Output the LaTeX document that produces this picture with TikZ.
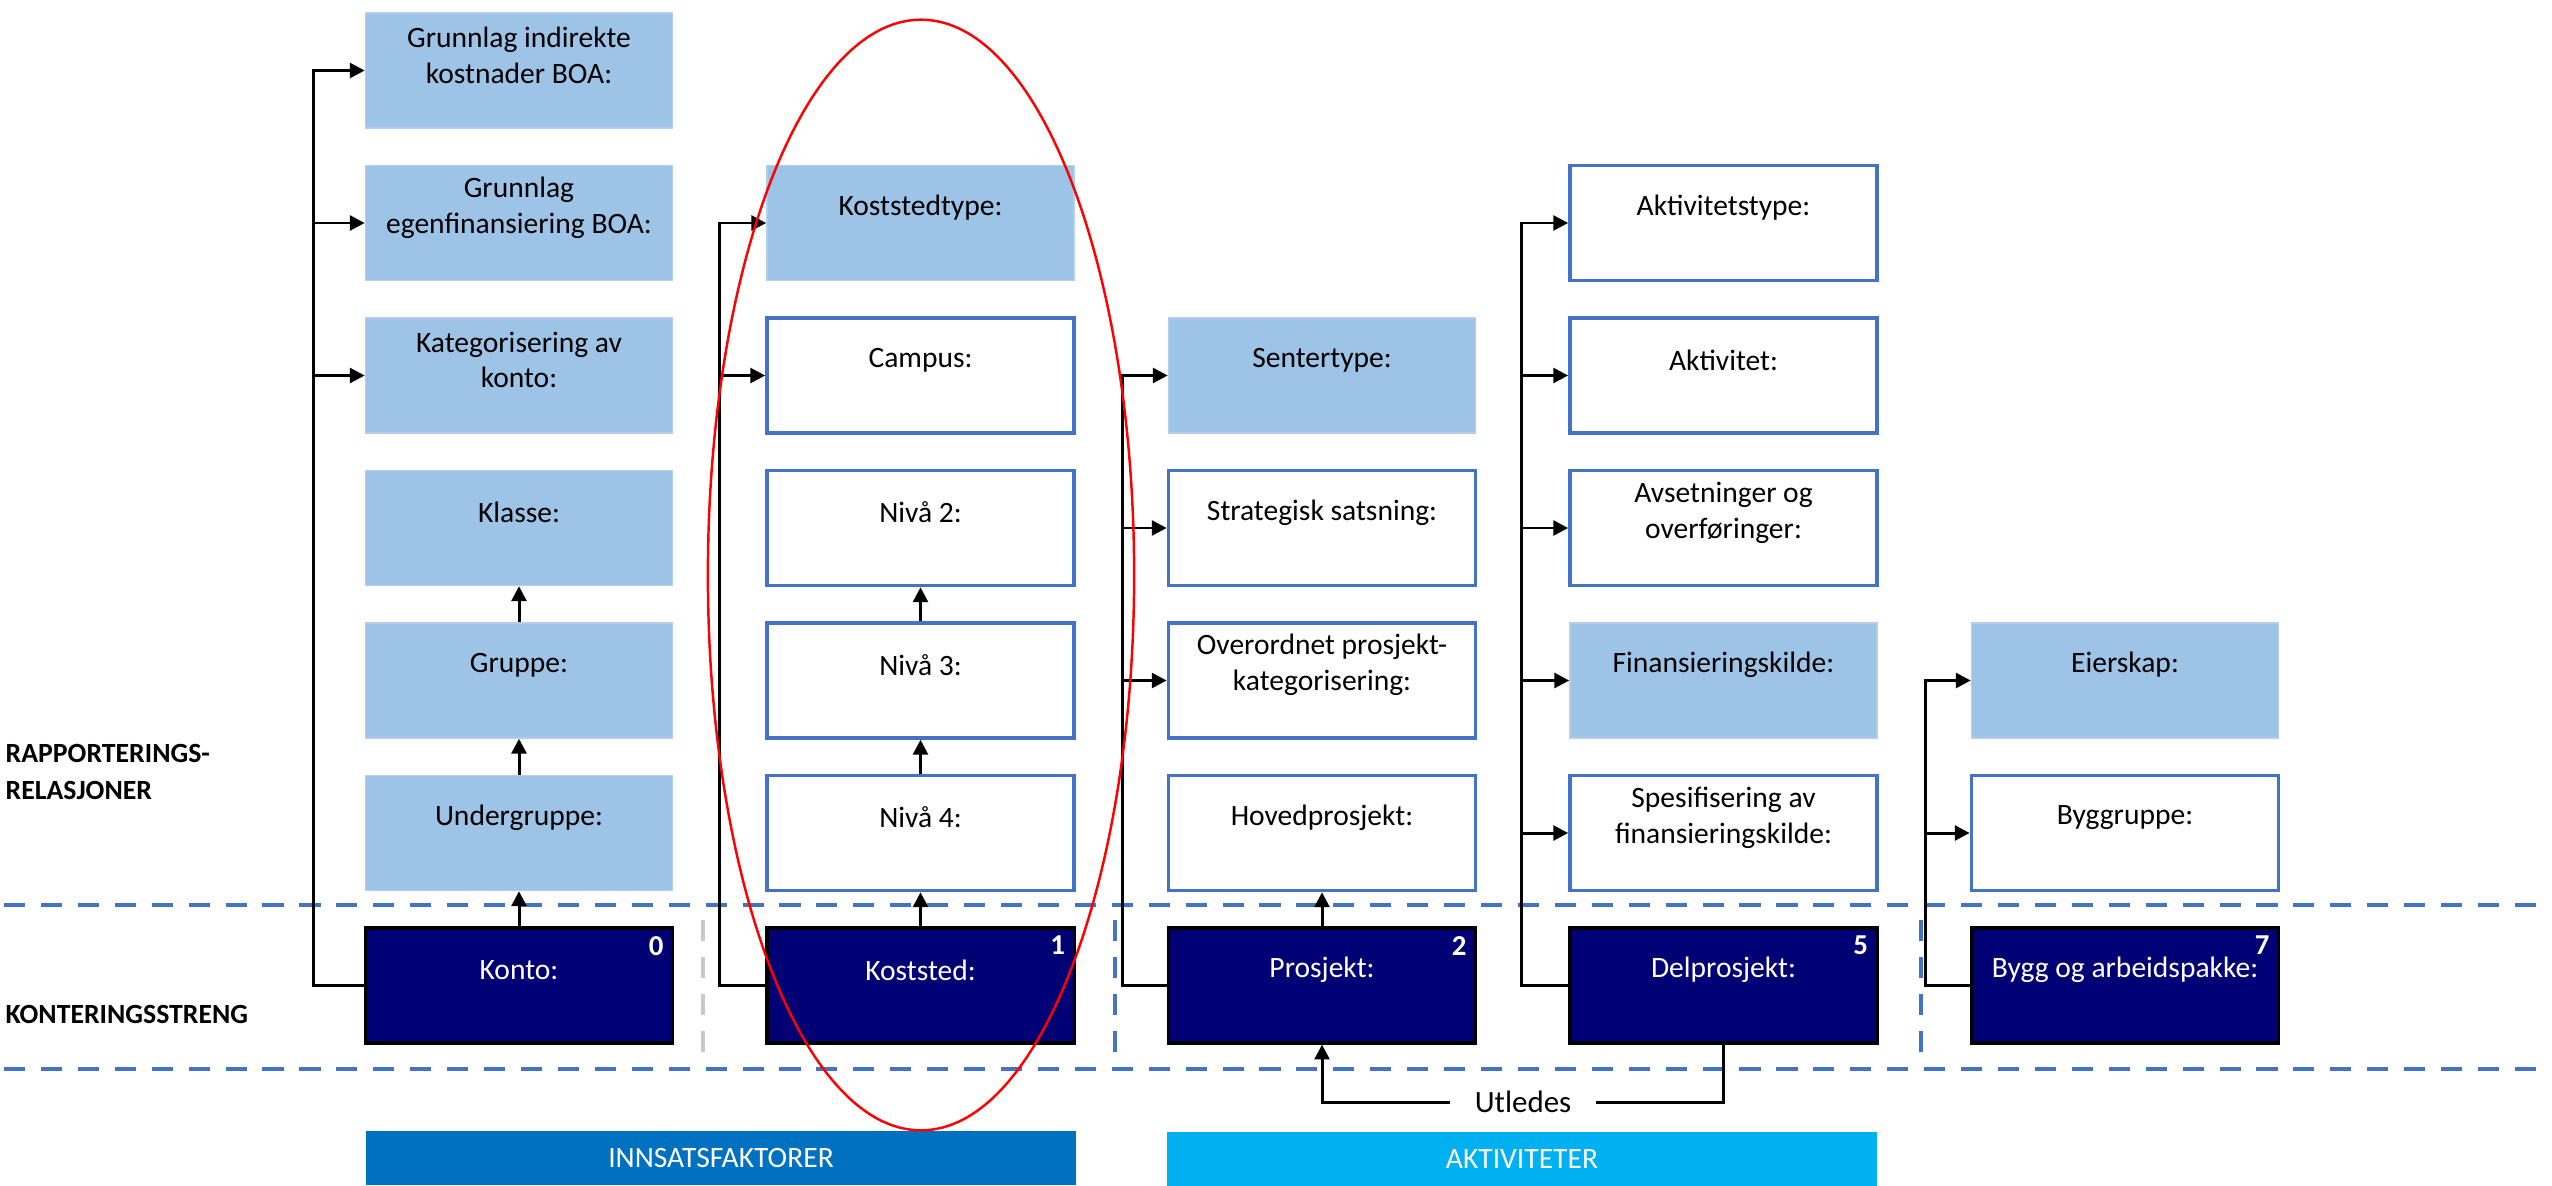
\documentclass[tikz,border=0pt]{standalone}
\usepackage{fontspec}
\setmainfont{Carlito}
\usetikzlibrary{arrows.meta,calc}
\definecolor{lblue}{HTML}{9DC3E6}
\definecolor{lbedge}{HTML}{B4CDEB}
\definecolor{bborder}{HTML}{4472C4}
\definecolor{navybox}{HTML}{000074}
\definecolor{innsats}{HTML}{0070C0}
\definecolor{aktiv}{HTML}{00B0F0}
\definecolor{greysep}{HTML}{C8C8C8}
\tikzset{
 boxbase/.style={rectangle, minimum width=3.07cm, minimum height=1.15cm, inner sep=0pt},
 fillbox/.style={boxbase, fill=lblue, draw=lbedge, line width=0.4pt},
 openbox/.style={boxbase, fill=white, draw=bborder, line width=1pt},
 darkbox/.style={boxbase, fill=navybox, draw=black, line width=0.9pt},
 txt/.style={font=\fontsize{8.4}{10.2}\selectfont, align=center, inner sep=0pt, text=black},
 wtxt/.style={txt, text=white},
 num/.style={font=\bfseries\fontsize{8.2}{9.8}\selectfont, text=white, inner sep=0pt, anchor=north east},
 conn/.style={line width=0.85pt, draw=black},
 arr/.style={conn, -{Triangle[length=4.2pt,width=4.2pt]}},
 sepline/.style={line width=1.3pt, draw=bborder, dash pattern=on 6pt off 4.5pt},
 greyline/.style={line width=1.3pt, draw=greysep, dash pattern=on 6pt off 4.5pt},
 hdr/.style={font=\bfseries\fontsize{7.9}{10.5}\selectfont, align=left, inner sep=0pt, anchor=west},
 bar/.style={minimum width=7.1cm, minimum height=0.53cm, inner sep=0pt, text=white, font=\fontsize{8.4}{10}\selectfont},
 utl/.style={fill=white, inner xsep=0.24cm, inner ysep=0pt, font=\fontsize{8.8}{10.5}\selectfont},
}
% style, name, x, row, text style, text
\newcommand\mkbox[6]{%
 \node[#1] (#2) at (#3,{70.5+152.5*#4}) {};
 \node[#5] (#2-t) at ($(#2.center)+(0,-15.5)$) {#6};}
\begin{document}
\begin{tikzpicture}[x=0.01cm,y=-0.01cm]
\useasboundingbox (0,0) rectangle (2552,1185);
\fill[white] (0,0) rectangle (2552,1185);

% dashed separators
\draw[sepline] (4,905) -- (2552,905);
\draw[sepline] (4,1069) -- (2552,1069);
\draw[greyline] (703,920) -- (703,1058);
\draw[sepline] (1115,920) -- (1115,1058);
\draw[sepline] (1921,920) -- (1921,1058);

% column 1
\mkbox{fillbox}{gi}{519}{0}{txt}{Grunnlag indirekte\\kostnader BOA:}
\mkbox{fillbox}{ge}{519}{1}{txt}{Grunnlag\\egenfinansiering BOA:}
\mkbox{fillbox}{kat}{519}{2}{txt}{Kategorisering av\\konto:}
\mkbox{fillbox}{kla}{519}{3}{txt}{Klasse:}
\mkbox{fillbox}{gru}{519}{4}{txt}{Gruppe:}
\mkbox{fillbox}{ugr}{519}{5}{txt}{Undergruppe:}
\mkbox{darkbox}{konto}{519}{6}{wtxt}{Konto:}
\node[num] (n0) at ($(konto.north east)+(-10,9)$) {0};

% column 2
\mkbox{fillbox}{kty}{920.5}{1}{txt}{Koststedtype:}
\mkbox{openbox}{cam}{920.5}{2}{txt}{Campus:}
\mkbox{openbox}{niv2}{920.5}{3}{txt}{Nivå 2:}
\mkbox{openbox}{niv3}{920.5}{4}{txt}{Nivå 3:}
\mkbox{openbox}{niv4}{920.5}{5}{txt}{Nivå 4:}
\mkbox{darkbox}{kost}{920.5}{6}{wtxt}{Koststed:}
\node[num] (n1) at ($(kost.north east)+(-10,9)$) {1};

% column 3
\mkbox{fillbox}{sen}{1322}{2}{txt}{Sentertype:}
\mkbox{openbox}{str}{1322}{3}{txt}{Strategisk satsning:}
\mkbox{openbox}{ovr}{1322}{4}{txt}{Overordnet prosjekt-\\kategorisering:}
\mkbox{openbox}{hov}{1322}{5}{txt}{Hovedprosjekt:}
\mkbox{darkbox}{pro}{1322}{6}{wtxt}{Prosjekt:}
\node[num] (n2) at ($(pro.north east)+(-10,9)$) {2};

% column 4
\mkbox{openbox}{aty}{1723.5}{1}{txt}{Aktivitetstype:}
\mkbox{openbox}{akt}{1723.5}{2}{txt}{Aktivitet:}
\mkbox{openbox}{avs}{1723.5}{3}{txt}{Avsetninger og\\overføringer:}
\mkbox{fillbox}{fin}{1723.5}{4}{txt}{Finansieringskilde:}
\mkbox{openbox}{spe}{1723.5}{5}{txt}{Spesifisering av\\finansieringskilde:}
\mkbox{darkbox}{del}{1723.5}{6}{wtxt}{Delprosjekt:}
\node[num] (n5) at ($(del.north east)+(-10,9)$) {5};

% column 5
\mkbox{fillbox}{eie}{2125}{4}{txt}{Eierskap:}
\mkbox{openbox}{byg}{2125}{5}{txt}{Byggruppe:}
\mkbox{darkbox}{bygg}{2125}{6}{wtxt}{Bygg og arbeidspakke:}
\node[num] (n7) at ($(bygg.north east)+(-10,9)$) {7};

% connectors column 1
\coordinate (v1) at ($(konto.west)+(-50,0)$);
\draw[arr] (konto.west) -- (v1) |- (gi.west);
\draw[arr] (v1 |- ge.west) -- (ge.west);
\draw[arr] (v1 |- kat.west) -- (kat.west);
\draw[arr] (konto.north) -- (ugr.south);
\draw[arr] (ugr.north) -- (gru.south);
\draw[arr] (gru.north) -- (kla.south);

% connectors column 2
\coordinate (v2) at ($(kost.west)+(-46,0)$);
\draw[arr] (kost.west) -- (v2) |- (kty.west);
\draw[arr] (v2 |- cam.west) -- (cam.west);
\draw[arr] (kost.north) -- (niv4.south);
\draw[arr] (niv4.north) -- (niv3.south);
\draw[arr] (niv3.north) -- (niv2.south);

% connectors column 3
\coordinate (v3) at ($(pro.west)+(-44,0)$);
\draw[arr] (pro.west) -- (v3) |- (sen.west);
\draw[arr] (v3 |- str.west) -- (str.west);
\draw[arr] (v3 |- ovr.west) -- (ovr.west);
\draw[arr] (pro.north) -- (hov.south);

% connectors column 4
\coordinate (v4) at ($(del.west)+(-47,0)$);
\draw[arr] (del.west) -- (v4) |- (aty.west);
\draw[arr] (v4 |- akt.west) -- (akt.west);
\draw[arr] (v4 |- avs.west) -- (avs.west);
\draw[arr] (v4 |- fin.west) -- (fin.west);
\draw[arr] (v4 |- spe.west) -- (spe.west);

% connectors column 5
\coordinate (v5) at ($(bygg.west)+(-44,0)$);
\draw[arr] (bygg.west) -- (v5) |- (eie.west);
\draw[arr] (v5 |- byg.west) -- (byg.west);

% Utledes
\node[utl] (utl) at (1523,1102) {Utledes};
\draw[conn] (del.south) |- (utl.east);
\draw[arr] (utl.west) -| (pro.south);

% headers
\node[hdr] (rap) at (5,772) {RAPPORTERINGS-\\RELASJONER};
\node[hdr] (kst) at (5,1014) {KONTERINGSSTRENG};

% bottom bars
\node[bar, fill=innsats] (innsats) at (721,1158) {INNSATSFAKTORER};
\node[bar, fill=aktiv] (aktiv) at (1522,1159) {AKTIVITETER};

% red ellipse
\draw[red, line width=0.7pt] (921,575) ellipse [x radius=2.13cm, y radius=5.55cm];
\end{tikzpicture}
\end{document}
